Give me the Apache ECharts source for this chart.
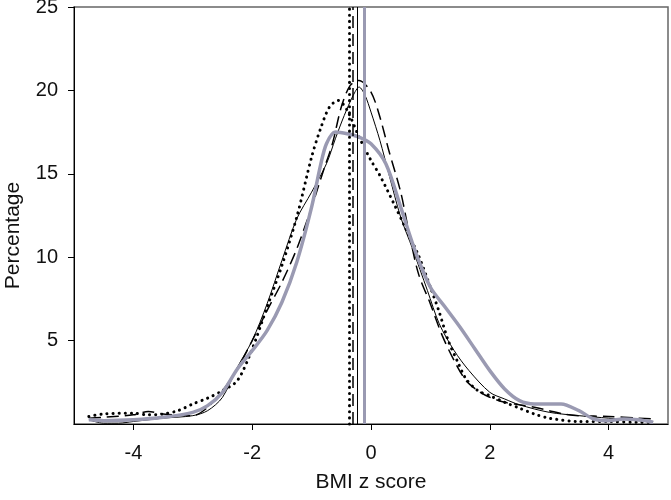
<!DOCTYPE html>
<html>
<head>
<meta charset="utf-8">
<script src="https://cdn.jsdelivr.net/npm/echarts@6/dist/echarts.min.js"></script>
<style>
  html, body { margin: 0; padding: 0; background: #fff; }
  #main { width: 671px; height: 500px; }
</style>
</head>
<body>
<div id="main"></div>
<script>
var chartDom = document.getElementById('main');
var myChart = echarts.init(chartDom);

// dotted curve
const dotX = [-4.75, -4.5, -4.0, -3.75, -3.5, -3.25, -3.0, -2.75, -2.5, -2.25, -2.0, -1.75, -1.5, -1.25, -1.0, -0.85, -0.7, -0.55, -0.4, -0.2, 0.0, 0.15, 0.4, 0.6, 0.8, 1.0, 1.15, 1.3, 1.45, 1.6, 1.8, 2.0, 2.25, 2.5, 2.75, 3.0, 3.5, 4.0, 4.5, 4.75];
const dotY = [0.45, 0.6, 0.65, 0.55, 0.6, 0.8, 1.2, 1.55, 2.0, 2.6, 4.5, 7.0, 9.5, 12.4, 16.0, 17.7, 19.0, 19.4, 18.8, 17.2, 15.8, 14.9, 13.1, 11.6, 10.1, 8.2, 6.7, 5.0, 3.8, 2.7, 2.0, 1.7, 1.3, 0.95, 0.6, 0.35, 0.15, 0.15, 0.1, 0.1];

// long dash curve
const dashX = [-4.75, -4.5, -4.0, -3.75, -3.5, -3.0, -2.75, -2.5, -2.25, -2.0, -1.75, -1.5, -1.25, -1.0, -0.8, -0.65, -0.5, -0.35, -0.2, 0.0, 0.15, 0.3, 0.5, 0.65, 0.8, 1.0, 1.2, 1.4, 1.6, 1.8, 2.0, 2.25, 2.5, 2.75, 3.0, 3.25, 3.5, 4.0, 4.5, 4.75];
const dashY = [0.35, 0.4, 0.55, 0.75, 0.6, 0.5, 1.0, 2.0, 3.3, 5.0, 6.8, 8.5, 10.5, 13.0, 15.2, 16.8, 19.0, 20.3, 20.6, 19.9, 18.4, 16.4, 13.9, 11.3, 9.0, 7.2, 5.3, 3.8, 2.6, 2.0, 1.6, 1.3, 1.15, 1.0, 0.8, 0.6, 0.5, 0.45, 0.35, 0.3];

// thin solid curve
const solidX = [-4.75, -4.5, -4.25, -4.0, -3.5, -3.0, -2.75, -2.5, -2.25, -2.0, -1.75, -1.5, -1.25, -1.0, -0.75, -0.6, -0.45, -0.3, -0.2, -0.1, 0.0, 0.15, 0.3, 0.5, 0.7, 0.95, 1.15, 1.4, 1.65, 2.0, 2.25, 2.5, 3.0, 3.5, 4.0, 4.5, 4.75];
const solidY = [0.25, 0.05, 0.05, 0.15, 0.35, 0.5, 0.8, 1.6, 3.4, 5.0, 7.2, 9.8, 12.3, 13.9, 15.6, 17.1, 18.5, 19.7, 20.2, 19.7, 18.7, 17.0, 15.0, 12.4, 10.5, 8.0, 6.0, 4.4, 3.2, 1.9, 1.5, 1.15, 0.7, 0.5, 0.35, 0.2, 0.15];

// thick grey curve
const greyX = [-4.75, -4.5, -4.0, -3.5, -3.0, -2.75, -2.5, -2.25, -2.0, -1.75, -1.5, -1.25, -1.0, -0.85, -0.75, -0.6, -0.4, -0.2, 0.0, 0.25, 0.5, 0.75, 1.0, 1.25, 1.5, 1.75, 2.0, 2.25, 2.5, 2.75, 3.0, 3.2, 3.5, 3.75, 4.0, 4.25, 4.5, 4.75];
const greyY = [0.25, 0.2, 0.25, 0.4, 0.7, 1.1, 1.9, 3.3, 4.4, 5.6, 7.3, 9.7, 13.0, 15.5, 16.8, 17.5, 17.4, 17.2, 16.8, 15.6, 13.0, 10.3, 8.2, 7.0, 5.8, 4.5, 3.2, 2.1, 1.4, 1.2, 1.2, 1.2, 0.8, 0.3, 0.2, 0.3, 0.25, 0.1];

// group means (vertical lines)
const meanDot = -0.37;
const meanDash = -0.30;
const meanSolid = -0.235;
const meanGrey = -0.115;

const xTicks = [-4, -2, 0, 2, 4];
const yTicks = [5, 10, 15, 20, 25];

const greyColor = '#9a9ab2';
const font = '"Liberation Sans", Arial, sans-serif';

function pairs(xs, ys) {
  var out = [];
  for (var i = 0; i < xs.length; i++) {
    out.push([xs[i], ys[i]]);
  }
  return out;
}

function vline(x, style) {
  return {
    silent: true,
    symbol: ['none', 'none'],
    label: { show: false },
    lineStyle: style,
    data: [[{ coord: [x, 0] }, { coord: [x, 25] }]]
  };
}

var dotStyle = { color: '#000', width: 3, type: [0.1, 6], cap: 'round' };
var dashStyle = { color: '#000', width: 1.5, type: [12, 6] };
var solidStyle = { color: '#000', width: 1, type: 'solid' };
var greyStyle = { color: greyColor, width: 3.5, type: 'solid' };

var option = {
  animation: false,
  grid: {
    left: 74, right: 3, top: 7, bottom: 76,
    outerBoundsMode: 'none',
    containLabel: false,
    show: true,
    borderColor: '#666',
    borderWidth: 1.5,
    backgroundColor: 'transparent'
  },
  xAxis: {
    type: 'value',
    min: -5,
    max: 5,
    name: 'BMI z score',
    nameLocation: 'middle',
    nameGap: 48,
    nameTextStyle: { fontFamily: font, fontSize: 21, color: '#111' },
    axisLine: { show: true, onZero: false, lineStyle: { color: '#000', width: 1 } },
    axisTick: { show: true, length: 6, customValues: xTicks, lineStyle: { color: '#000' } },
    axisLabel: { customValues: xTicks, margin: 19, fontFamily: font, fontSize: 20, color: '#111' },
    splitLine: { show: false }
  },
  yAxis: {
    type: 'value',
    min: 0,
    max: 25,
    name: 'Percentage',
    nameLocation: 'middle',
    nameGap: 50,
    nameTextStyle: { fontFamily: font, fontSize: 21, color: '#111', padding: [0, 40, 0, 0] },
    axisLine: { show: true, onZero: false, lineStyle: { color: '#000', width: 1 } },
    axisTick: { show: true, length: 6, customValues: yTicks, lineStyle: { color: '#000' } },
    axisLabel: { customValues: yTicks, margin: 16, fontFamily: font, fontSize: 20, color: '#111' },
    splitLine: { show: false }
  },
  series: [
    {
      name: 'dotted',
      type: 'line',
      data: pairs(dotX, dotY),
      smooth: 0.3,
      showSymbol: false,
      lineStyle: dotStyle,
      markLine: vline(meanDot, dotStyle)
    },
    {
      name: 'dashed',
      type: 'line',
      data: pairs(dashX, dashY),
      smooth: 0.3,
      showSymbol: false,
      lineStyle: dashStyle,
      markLine: vline(meanDash, dashStyle)
    },
    {
      name: 'solid',
      type: 'line',
      data: pairs(solidX, solidY),
      smooth: 0.3,
      showSymbol: false,
      lineStyle: solidStyle,
      markLine: vline(meanSolid, solidStyle)
    },
    {
      name: 'grey',
      type: 'line',
      data: pairs(greyX, greyY),
      smooth: 0.3,
      showSymbol: false,
      lineStyle: greyStyle,
      markLine: vline(meanGrey, { color: greyColor, width: 3, type: 'solid' })
    }
  ]
};

option && myChart.setOption(option);
</script>
</body>
</html>
